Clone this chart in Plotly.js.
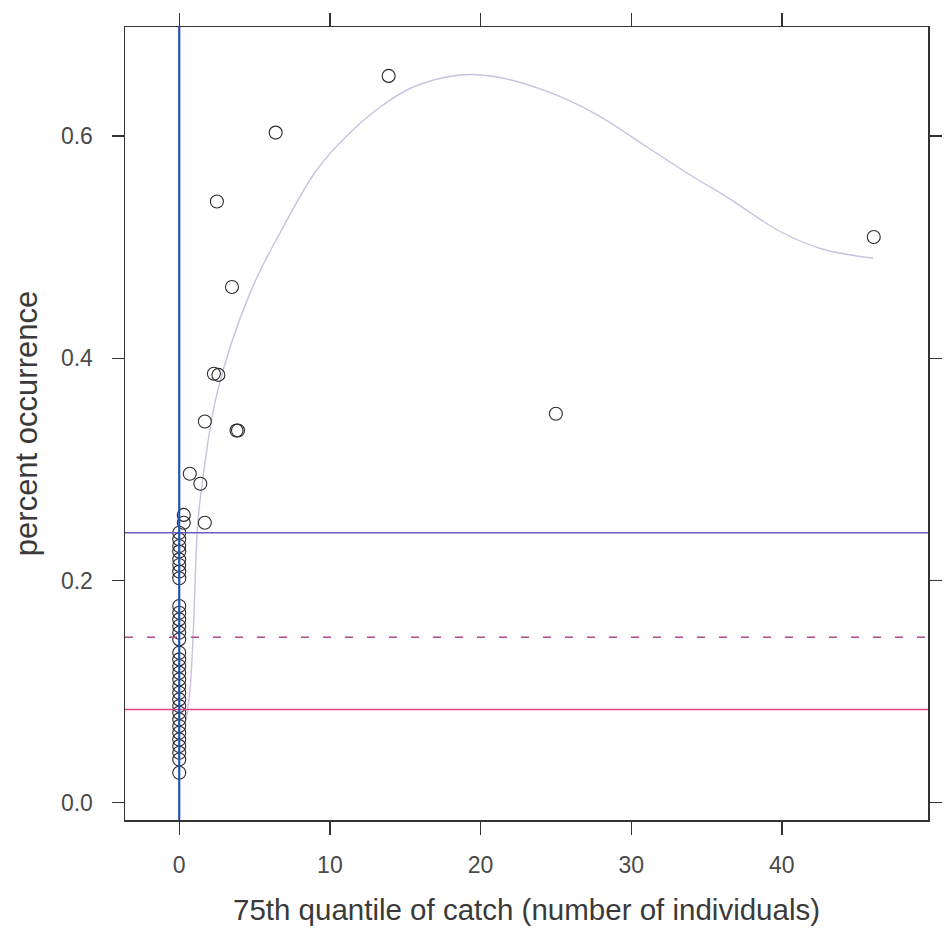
<!DOCTYPE html>
<html>
<head>
<meta charset="utf-8">
<script src="https://cdn.plot.ly/plotly-3.0.1.min.js"></script>
<style>
html,body{margin:0;padding:0;background:#fff;}
#chart{width:947px;height:931px;}
</style>
</head>
<body>
<div id="chart"></div>
<script>
// Observed points: 75th quantile of catch vs percent occurrence
const catchQ75 = [
  0,0,0,0,0,0,0,0,0,0,0,0,0,0,0,0,0,0,0,0,0,0,0,0,0,0,0,0,0,0,0,0,
  0.3,0.3,1.7,1.4,0.7,3.8,3.9,1.7,2.3,2.6,3.5,2.5,6.4,13.9,25.0,46.1
];
const pctOcc = [
  0.243,0.237,0.231,0.226,0.219,0.214,0.208,0.202,
  0.177,0.171,0.165,0.159,0.153,0.147,
  0.135,0.129,0.123,0.117,0.111,0.105,0.099,0.093,0.087,0.081,
  0.075,0.069,0.063,0.057,0.051,0.045,0.039,0.027,
  0.259,0.252,0.252,0.287,0.296,0.335,0.335,0.343,0.386,0.385,0.464,0.541,0.603,0.654,0.350,0.509
];

// Smoothed fit curve
const smoothX = [0.46,0.53,0.73,0.93,1.19,1.39,2.52,4.71,6.90,9.16,11.35,13.34,15.53,18.85,21.10,24.42,27.74,31.05,34.37,36.36,39.88,42.73,46.05];
const smoothY = [0.075,0.081,0.104,0.153,0.243,0.273,0.369,0.459,0.518,0.570,0.603,0.626,0.644,0.655,0.653,0.640,0.619,0.590,0.561,0.545,0.514,0.498,0.490];

// Reference lines
const refLineY = [0.243, 0.149, 0.084];
const refLineColor = ['#6a5cc8', '#b2488c', '#e0448a'];
const refLineDash = ['solid', '8px,14px', 'solid'];
const vLineX = [0];

const xTicks = [0, 10, 20, 30, 40];
const yTicks = [0.0, 0.2, 0.4, 0.6];
const xRange = [-3.6, 49.7];
const yRange = [-0.0155, 0.698];

const traces = [
  {
    x: smoothX, y: smoothY, type: 'scatter', mode: 'lines',
    line: {color: '#cbc0de', width: 1.4, shape: 'spline', smoothing: 1.0},
    hoverinfo: 'skip', showlegend: false
  },
  {
    x: catchQ75, y: pctOcc, type: 'scatter', mode: 'markers',
    marker: {symbol: 'circle-open', size: 13, color: '#2a2a2a', line: {width: 1.1, color: '#2a2a2a'}},
    showlegend: false
  }
];

const shapes = [];
refLineY.forEach((v, i) => {
  shapes.push({type: 'line', xref: 'paper', yref: 'y', x0: 0, x1: 1, y0: v, y1: v,
    line: {color: refLineColor[i], width: 1.5, dash: refLineDash[i]}, layer: 'above'});
});
vLineX.forEach(v => {
  shapes.push({type: 'line', xref: 'x', yref: 'paper', x0: v, x1: v, y0: 0, y1: 1,
    line: {color: '#2453b3', width: 2.2}, layer: 'above'});
});

const layout = {
  width: 947, height: 931,
  margin: {l: 125, r: 19, t: 27, b: 111},
  paper_bgcolor: '#ffffff', plot_bgcolor: '#ffffff',
  font: {family: 'Liberation Sans, Arial, sans-serif', color: '#4a4a4a'},
  showlegend: false,
  shapes: shapes,
  xaxis: {
    range: xRange, tickvals: xTicks, ticktext: xTicks.map(String),
    showgrid: false, zeroline: false,
    showline: true, mirror: 'ticks', linecolor: '#333', linewidth: 1.5,
    ticks: 'outside', ticklen: 13, tickwidth: 1.3, tickcolor: '#333',
    ticklabelstandoff: 11,
    tickfont: {size: 23, color: '#4a4a4a'},
    title: {text: '75th quantile of catch (number of individuals)', font: {size: 29.5, color: '#3a3a3a'}, standoff: 22}
  },
  yaxis: {
    range: yRange, tickvals: yTicks, ticktext: yTicks.map(v => v.toFixed(1)),
    showgrid: false, zeroline: false,
    showline: true, mirror: 'ticks', linecolor: '#333', linewidth: 1.5,
    ticks: 'outside', ticklen: 12, tickwidth: 1.3, tickcolor: '#333',
    ticklabelstandoff: 14,
    tickfont: {size: 23, color: '#4a4a4a'},
    title: {text: 'percent occurrence', font: {size: 31, color: '#3a3a3a'}, standoff: 14}
  }
};

Plotly.newPlot('chart', traces, layout, {displayModeBar: false, staticPlot: true});
</script>
</body>
</html>
